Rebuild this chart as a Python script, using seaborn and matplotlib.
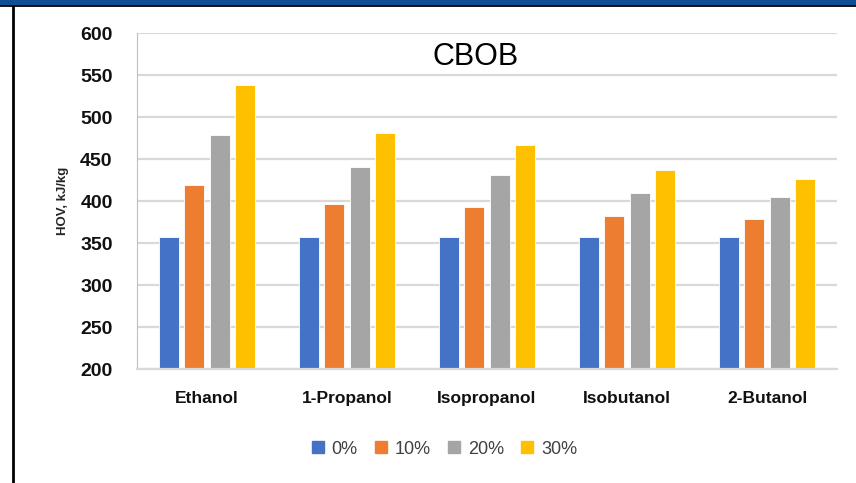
import pandas as pd
import matplotlib.pyplot as plt
import seaborn as sns
from matplotlib.lines import Line2D

# Data
alcohols = ['Ethanol', '1-Propanol', 'Isopropanol', 'Isobutanol', '2-Butanol']
blend_levels = ['0%', '10%', '20%', '30%']
hov_0 = [357, 357, 357, 357, 357]
hov_10 = [419, 397, 393, 382, 379]
hov_20 = [478, 440, 431, 409, 405]
hov_30 = [538, 481, 467, 437, 426]

colors = ['#4472C4', '#ED7D31', '#A5A5A5', '#FFC000']

df = pd.DataFrame({
    'Alcohol': alcohols * 4,
    'Blend': [b for b in blend_levels for _ in alcohols],
    'HOV': hov_0 + hov_10 + hov_20 + hov_30,
})

sns.set_style('white')
plt.rcParams['font.family'] = ['Liberation Sans', 'DejaVu Sans']

fig = plt.figure(figsize=(8.56, 4.83), dpi=100)
ax = fig.add_axes([137 / 856, 1 - 369 / 483, 700 / 856, 336 / 483])

sns.barplot(data=df, x='Alcohol', y='HOV', hue='Blend', palette=colors,
            width=0.72, gap=0.2, ax=ax, legend=False, saturation=1,
            edgecolor='white', linewidth=0.6)

ax.set_ylim(200, 600)
ax.set_xlim(-0.5, 4.5)
ax.set_yticks(range(200, 601, 50))
ax.yaxis.grid(True, color='#D9D9D9', linewidth=1.6)
ax.set_axisbelow(True)
for side in ['top', 'right']:
    ax.spines[side].set_visible(False)
ax.spines['left'].set_color('#BFBFBF')
ax.spines['bottom'].set_color('#D9D9D9')
ax.spines['bottom'].set_linewidth(1.6)
ax.tick_params(axis='y', length=6.5, color='#BFBFBF', labelsize=14, pad=11)
ax.tick_params(axis='x', length=0, labelsize=12.5, pad=16)
for lbl in ax.get_yticklabels() + ax.get_xticklabels():
    lbl.set_fontweight('bold')
    lbl.set_color('#111111')

ax.set_xlabel('')
ax.set_ylabel('HOV, kJ/kg', fontsize=9.5, fontweight='bold', labelpad=8)
ax.text(0.483, 0.93, 'CBOB', transform=ax.transAxes, ha='center', va='center',
        fontsize=22, color='black')

handles = [Line2D([], [], marker='s', linestyle='', markersize=9,
                  markerfacecolor=c, markeredgecolor=c) for c in colors]
fig.legend(handles, blend_levels, loc='center', bbox_to_anchor=(444 / 856, 1 - 449 / 483),
           ncol=4, frameon=False, fontsize=13, handlelength=0.8, handletextpad=0.35,
           columnspacing=0.9, labelcolor='#404040')

# frame lines of the original slide
fig.add_artist(plt.Rectangle((0, 1 - 3.5 / 483), 1, 3.5 / 483, transform=fig.transFigure,
                             color='#0F4F96', zorder=10))
fig.add_artist(Line2D([0, 1], [1 - 4.5 / 483] * 2, transform=fig.transFigure,
                      color='black', linewidth=2))
fig.add_artist(Line2D([13 / 856] * 2, [0, 1 - 4.5 / 483], transform=fig.transFigure,
                      color='black', linewidth=2))

fig.savefig('out.png', dpi=100)
